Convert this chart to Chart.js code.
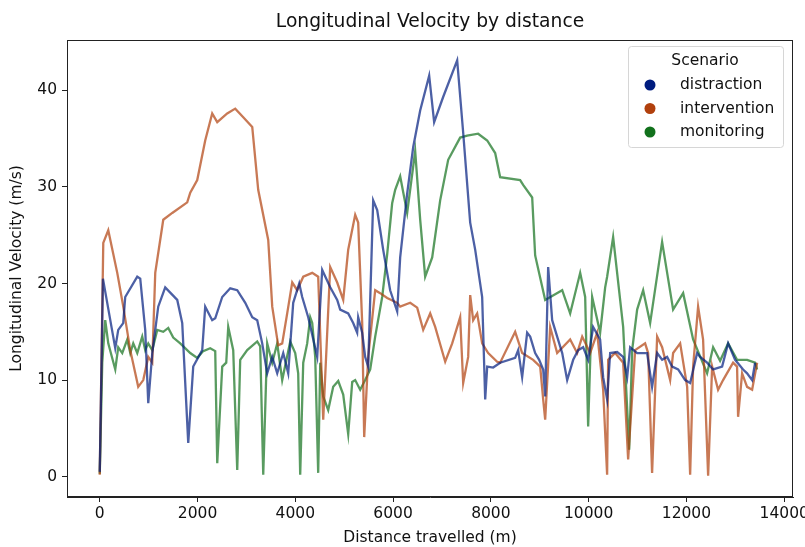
<!DOCTYPE html>
<html>
<head>
<meta charset="utf-8">
<script src="https://cdn.jsdelivr.net/npm/chart.js@4"></script>
<style>
  html, body { margin: 0; padding: 0; background: white; }
  #wrap { width: 805px; height: 547px; }
</style>
</head>
<body>
<div id="wrap"><canvas id="myChart" width="805" height="547"></canvas></div>
<script>
// Distance travelled (m) / longitudinal velocity (m/s)
const distractionX = [0, 65, 317, 378, 480, 521, 767, 828, 930, 992, 1074, 1196, 1339, 1585, 1687, 1810, 1912, 2096, 2157, 2300, 2362, 2505, 2669, 2812, 2976, 3119, 3221, 3323, 3425, 3528, 3630, 3753, 3855, 3957, 4080, 4141, 4264, 4448, 4550, 4714, 4857, 4918, 5082, 5184, 5265, 5286, 5368, 5429, 5491, 5593, 5675, 5797, 5940, 6084, 6145, 6288, 6411, 6554, 6738, 6840, 7024, 7311, 7434, 7577, 7679, 7822, 7884, 7925, 8047, 8190, 8497, 8558, 8640, 8742, 8804, 8906, 8988, 9070, 9111, 9172, 9254, 9356, 9459, 9561, 9684, 9786, 9888, 9990, 10092, 10235, 10297, 10378, 10440, 10583, 10706, 10788, 10849, 10992, 11196, 11298, 11401, 11503, 11605, 11708, 11831, 11974, 12076, 12219, 12280, 12423, 12546, 12730, 12853, 12996, 13159, 13241, 13344, 13405];
const distractionY = [0.5, 20.5, 13.3, 15.2, 15.9, 18.6, 20.7, 20.5, 15.2, 7.6, 12.8, 17.6, 19.6, 18.3, 15.9, 3.5, 11.4, 13.1, 17.6, 16.2, 16.4, 18.6, 19.5, 19.3, 18.0, 16.5, 16.2, 13.8, 10.7, 12.4, 10.7, 12.8, 10.7, 18.0, 20.0, 18.6, 16.5, 12.4, 21.4, 19.6, 18.3, 17.3, 16.9, 15.9, 14.9, 16.5, 14.9, 12.4, 11.4, 28.6, 27.6, 23.5, 19.3, 17.1, 22.7, 29.3, 34.1, 37.9, 41.5, 36.7, 39.3, 43.1, 35.6, 26.3, 23.5, 18.6, 8.0, 11.4, 11.3, 11.8, 12.3, 13.1, 10.3, 14.9, 14.5, 12.8, 12.1, 11.1, 8.3, 21.7, 16.2, 14.5, 12.8, 10.0, 12.1, 13.1, 13.4, 12.1, 15.5, 14.2, 10.3, 8.0, 12.8, 12.9, 12.4, 10.3, 13.4, 12.8, 12.8, 9.3, 12.8, 12.1, 12.4, 11.4, 11.1, 10.0, 9.7, 12.8, 12.4, 11.8, 11.1, 11.4, 13.8, 12.1, 11.1, 10.7, 10.0, 11.8];

const interventionX = [0, 72, 174, 358, 481, 624, 787, 890, 992, 1074, 1135, 1299, 1483, 1789, 1851, 1994, 2157, 2300, 2403, 2607, 2771, 2935, 3119, 3241, 3446, 3528, 3650, 3732, 3834, 3937, 4039, 4162, 4346, 4468, 4571, 4714, 4857, 4980, 5082, 5225, 5286, 5368, 5409, 5491, 5634, 5736, 5879, 6084, 6145, 6350, 6493, 6616, 6759, 6861, 7066, 7209, 7372, 7434, 7536, 7577, 7638, 7720, 7822, 7945, 8129, 8190, 8497, 8640, 8865, 9009, 9070, 9111, 9213, 9356, 9622, 9765, 9868, 10031, 10174, 10297, 10378, 10399, 10542, 10706, 10808, 10951, 11155, 11217, 11298, 11401, 11503, 11667, 11728, 11872, 12015, 12076, 12137, 12239, 12341, 12444, 12526, 12648, 12750, 12955, 13036, 13057, 13139, 13241, 13344, 13446];
const interventionY = [0.2, 24.2, 25.5, 21.1, 17.6, 13.1, 9.3, 10.0, 12.4, 11.8, 21.1, 26.6, 27.3, 28.4, 29.4, 30.7, 34.8, 37.6, 36.7, 37.6, 38.1, 37.2, 36.2, 29.7, 24.5, 17.6, 13.6, 13.8, 16.9, 20.1, 19.3, 20.7, 21.1, 20.7, 5.9, 21.7, 20.1, 18.3, 23.5, 27.1, 26.3, 15.9, 4.1, 12.4, 19.3, 19.0, 18.5, 18.0, 17.6, 18.0, 17.5, 15.2, 16.9, 15.5, 11.9, 13.8, 16.5, 9.7, 12.4, 18.8, 16.2, 16.9, 13.8, 12.8, 11.9, 11.8, 15.0, 12.8, 12.1, 11.4, 8.0, 5.9, 15.5, 12.8, 14.2, 12.8, 14.5, 12.8, 14.9, 9.0, 0.2, 12.1, 12.8, 11.8, 1.8, 13.1, 13.8, 12.8, 0.4, 14.5, 13.4, 10.0, 12.8, 13.8, 9.3, 0.2, 11.4, 17.6, 14.2, 0.1, 11.4, 9.0, 10.0, 11.8, 11.4, 6.2, 10.7, 9.3, 9.0, 11.8];

const monitoringX = [0, 51, 112, 174, 317, 378, 460, 562, 624, 685, 767, 869, 930, 992, 1074, 1176, 1299, 1401, 1503, 1646, 1851, 1994, 2116, 2259, 2362, 2403, 2505, 2587, 2628, 2730, 2812, 2873, 3016, 3221, 3282, 3344, 3425, 3528, 3630, 3732, 3896, 3998, 4059, 4100, 4162, 4243, 4305, 4346, 4407, 4468, 4510, 4571, 4673, 4775, 4878, 4980, 5082, 5164, 5225, 5327, 5429, 5532, 5634, 5777, 5879, 5981, 6043, 6145, 6288, 6452, 6554, 6656, 6800, 6963, 7127, 7372, 7515, 7740, 7925, 8088, 8190, 8599, 8660, 8845, 8906, 9111, 9459, 9622, 9827, 9929, 9990, 10072, 10235, 10338, 10378, 10501, 10706, 10829, 10890, 10992, 11115, 11258, 11503, 11728, 11933, 12137, 12423, 12546, 12689, 12853, 13036, 13241, 13405, 13446];
const monitoringY = [0.3, 11.8, 16.2, 13.8, 11.1, 13.4, 12.8, 14.2, 12.8, 13.8, 12.8, 14.5, 13.1, 13.8, 13.1, 15.2, 15.0, 15.4, 14.4, 13.8, 12.8, 12.3, 13.0, 13.3, 13.0, 1.4, 11.4, 11.8, 15.5, 13.1, 0.7, 12.1, 13.1, 14.0, 13.5, 0.2, 13.8, 11.8, 13.8, 10.0, 14.0, 12.8, 10.7, 0.2, 11.8, 13.8, 16.5, 15.9, 12.4, 0.4, 11.8, 8.3, 6.9, 9.3, 9.9, 8.5, 4.4, 9.8, 10.0, 9.0, 10.0, 11.1, 14.5, 18.6, 23.0, 28.3, 29.7, 31.1, 27.3, 33.7, 26.6, 20.7, 22.7, 28.6, 32.8, 35.1, 35.3, 35.5, 34.8, 33.5, 31.0, 30.7, 30.2, 28.9, 22.9, 18.3, 19.3, 16.9, 21.1, 18.6, 5.2, 18.6, 14.9, 19.6, 20.7, 24.8, 15.5, 2.8, 13.1, 17.3, 19.3, 15.9, 24.3, 17.3, 19.0, 14.2, 10.7, 13.4, 12.0, 13.8, 12.1, 12.1, 11.8, 11.1];

const scenarios = ['distraction', 'intervention', 'monitoring'];
const markerColors = ['#001c7f', '#b1400d', '#12711c'];
const lineColors = ['rgba(0,28,127,0.7)', 'rgba(177,64,13,0.7)', 'rgba(18,113,28,0.7)'];
const xTicks = [0, 2000, 4000, 6000, 8000, 10000, 12000, 14000];
const yTicks = [0, 10, 20, 30, 40];

const FONT = "'DejaVu Sans', sans-serif";
const FS = 15.5;

function pts(xs, ys) {
  return xs.map((x, i) => ({ x, y: ys[i] }));
}

const series = [
  pts(distractionX, distractionY),
  pts(interventionX, interventionY),
  pts(monitoringX, monitoringY),
];

// frame on all four sides + title + legend, matplotlib style
const frameAndLegend = {
  id: 'frameAndLegend',
  afterDraw(chart) {
    const { ctx, chartArea: a } = chart;
    ctx.save();
    ctx.strokeStyle = '#222';
    ctx.lineWidth = 1;
    ctx.strokeRect(a.left + 0.5, a.top + 0.5, a.right - a.left - 1, a.bottom - a.top - 1);

    ctx.fillStyle = '#111';
    ctx.font = '18.7px ' + FONT;
    ctx.textAlign = 'center';
    ctx.textBaseline = 'middle';
    ctx.fillText('Longitudinal Velocity by distance', (a.left + a.right) / 2, 22);

    // legend
    const bx = 628, by = 46, bw = 155, bh = 101;
    ctx.fillStyle = 'rgba(255,255,255,0.8)';
    ctx.strokeStyle = '#d6d6d6';
    ctx.beginPath();
    ctx.roundRect(bx + 0.5, by + 0.5, bw, bh, 3);
    ctx.fill();
    ctx.stroke();
    ctx.fillStyle = '#111';
    ctx.font = FS + 'px ' + FONT;
    ctx.textAlign = 'center';
    ctx.fillText('Scenario', 705, 61);
    ctx.textAlign = 'left';
    scenarios.forEach((s, i) => {
      const yy = 85 + i * 23.5;
      ctx.fillStyle = markerColors[i];
      ctx.beginPath();
      ctx.arc(650, yy, 5.5, 0, Math.PI * 2);
      ctx.fill();
      ctx.fillStyle = '#111';
      ctx.fillText(s, 680, yy);
    });
    ctx.restore();
  }
};

new Chart(document.getElementById('myChart'), {
  type: 'line',
  data: {
    datasets: series.map((d, i) => ({
      label: scenarios[i],
      data: d,
      borderColor: lineColors[i],
      borderWidth: 2.3,
      pointRadius: 0,
      tension: 0,
      fill: false,
    }))
  },
  plugins: [frameAndLegend],
  options: {
    responsive: false,
    animation: false,
    layout: { padding: { left: 0, right: 12, top: 40, bottom: 0 } },
    plugins: { legend: { display: false }, tooltip: { enabled: false } },
    scales: {
      x: {
        type: 'linear',
        min: -670,
        max: 14180,
        afterBuildTicks(scale) { scale.ticks = xTicks.map(v => ({ value: v })); },
        afterFit(scale) { scale.height = 50; scale.paddingLeft = 0; scale.paddingRight = 0; },
        grid: { drawOnChartArea: false, tickLength: 5, tickColor: '#222' },
        border: { display: true, color: '#222' },
        ticks: { color: '#111', font: { family: FONT, size: FS }, padding: 3, maxRotation: 0, callback: v => String(v) },
        title: { display: true, text: 'Distance travelled (m)', color: '#111', font: { family: FONT, size: FS }, padding: { top: 0, bottom: 0 } }
      },
      y: {
        type: 'linear',
        min: -2.1,
        max: 45.2,
        afterBuildTicks(scale) { scale.ticks = yTicks.map(v => ({ value: v })); },
        afterFit(scale) { scale.width = 67; scale.paddingTop = 0; scale.paddingBottom = 0; },
        grid: { drawOnChartArea: false, tickLength: 5, tickColor: '#222' },
        border: { display: true, color: '#222' },
        ticks: { color: '#111', font: { family: FONT, size: FS }, padding: 5, callback: v => String(v) },
        title: { display: true, text: 'Longitudinal Velocity (m/s)', color: '#111', font: { family: FONT, size: FS }, padding: { top: 8, bottom: 0 } }
      }
    }
  }
});
</script>
</body>
</html>
